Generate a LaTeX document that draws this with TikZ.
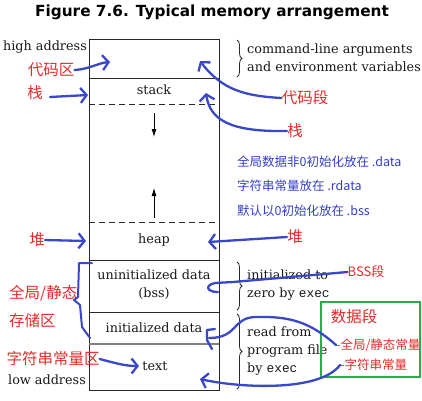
\documentclass[tikz,border=0pt]{standalone}
\usepackage{fontspec}
\setmainfont{DejaVu Serif}
\newfontfamily\cjk{Noto Sans CJK SC}
\newfontfamily\titlefont{DejaVu Sans}
\newfontfamily\monof{Liberation Mono}
\usetikzlibrary{arrows.meta,decorations.pathreplacing}
\definecolor{myred}{RGB}{228,44,44}
\definecolor{myblue}{RGB}{58,72,200}
\definecolor{mybluetxt}{RGB}{52,64,200}
\definecolor{mygreen}{RGB}{46,170,74}
\definecolor{boxline}{RGB}{40,40,40}
\begin{document}
\begin{tikzpicture}[x=1pt,y=-1pt,
  serif/.style={font=\fontsize{12.8}{18}\selectfont, inner sep=0pt, text=black!90},
  redtxt/.style={text=myred, font=\cjk\fontsize{15.5}{18}\selectfont, inner sep=0pt},
  redsmall/.style={text=myred, font=\cjk\fontsize{12.5}{15}\selectfont, inner sep=0pt},
  bluetxt/.style={text=mybluetxt, font=\cjk\fontsize{12.5}{15}\selectfont, inner sep=0pt, anchor=west},
  hand/.style={draw=myblue, line width=2.3pt, line cap=round, line join=round},
  handarrow/.style={hand, -{Straight Barb[length=6pt,width=15pt]}},
  boxl/.style={draw=boxline, line width=0.9pt},
  dashl/.style={draw=boxline, line width=0.9pt, dash pattern=on 6pt off 4pt},
  bracel/.style={draw=boxline, line width=0.8pt, decorate, decoration={brace, amplitude=5pt}},
  inarrow/.style={draw=black, line width=0.8pt, -{Latex[length=8pt,width=5pt]}}
]
\useasboundingbox (0,0) rectangle (422,400);
\fill[white] (0,0) rectangle (422,400);

% title
\node[font=\titlefont\bfseries\fontsize{15.3}{17}\selectfont, inner sep=0pt] (title) at (212,12) {Figure 7.6. Typical memory arrangement};

% memory box
\draw[boxl] (89,39) rectangle (219,390);
\draw[boxl] (89,78) -- (219,78);
\draw[dashl] (89,104) -- (219,104);
\draw[dashl] (89,222) -- (219,222);
\draw[boxl] (89,260) -- (219,260);
\draw[boxl] (89,312) -- (219,312);
\draw[draw=gray, line width=1.6pt] (89,344) -- (219,344);

% texts in / around box
\node[serif] (high) at (45,47) {high address};
\node[serif] (low) at (47,380) {low address};
\node[serif] (stack) at (154,90) {stack};
\node[serif] (heap) at (154,240) {heap};
\node[serif, align=center] (bss) at (154,285) {uninitialized data\\(bss)};
\node[serif] (idata) at (154,328) {initialized data};
\node[serif] (text) at (155,366) {text};

\coordinate (dtop) at (154,113);
\coordinate (dbot) at (154,137);
\coordinate (utop) at (154,188);
\coordinate (ubot) at (154,218);
\draw[inarrow] (dtop) -- (dbot);
\draw[inarrow] (ubot) -- (utop);

% braces
\coordinate (b1a) at (237,40); \coordinate (b1b) at (237,77);
\coordinate (b2a) at (237,262); \coordinate (b2b) at (237,310);
\coordinate (b3a) at (237,314); \coordinate (b3b) at (237,389);
\draw[bracel] (b1a) -- (b1b);
\draw[bracel] (b2a) -- (b2b);
\draw[bracel] (b3a) -- (b3b);

\node[serif, anchor=west, align=left] (cmd) at (247,58) {command-line arguments\\and environment variables};
\node[serif, anchor=west, align=left] (izero) at (247,285) {initialized to\\zero by {\monof exec}};
\node[serif, anchor=west, align=left] (rfrom) at (247,351) {read from\\program file\\by {\monof exec}};

% blue notes
\node[bluetxt] (n1) at (237,162) {全局数据非0初始化放在 .data};
\node[bluetxt] (n2) at (237,186) {字符串常量放在 .rdata};
\node[bluetxt] (n3) at (237,211) {默认以0初始化放在 .bss};

% green box
\draw[draw=mygreen, line width=2.4pt] (321,302) rectangle (420,377);
\node[redtxt] (sjd) at (354,317) {数据段};
\node[redsmall, anchor=west] (qjcl) at (336,345) {-全局/静态常量};
\node[redsmall, anchor=west] (zfccl) at (340,365) {-字符串常量};

% red labels
\node[redtxt] (dmq) at (51,70) {代码区};
\node[redtxt] (zhanL) at (35,93) {栈};
\node[redtxt] (dmd) at (305,98) {代码段};
\node[redtxt] (zhanR) at (295,131) {栈};
\node[redtxt] (duiL) at (37,240) {堆};
\node[redtxt] (duiR) at (295,237) {堆};
\node[redsmall, font=\cjk\fontsize{13}{15}\selectfont] (bssd) at (366,272) {BSS段};
\node[redtxt, anchor=west] (qj) at (9,293) {全局/静态};
\node[redtxt, anchor=west] (ccq) at (9,321) {存储区};
\node[redtxt] (zfcq) at (53,359) {字符串常量区};

% hand drawn arrows
\coordinate (t1) at (110,62);
\draw[handarrow] (dmq.east) .. controls (90,69) and (98,63) .. (t1);
\coordinate (t2) at (88,95);
\draw[handarrow] (50,97) -- (t2);
\coordinate (t3) at (200,61);
\draw[handarrow] (dmd.west) .. controls (245,96) and (222,90) .. (t3);
\coordinate (t4) at (206,93);
\draw[handarrow] (zhanR.west) .. controls (230,132) and (210,120) .. (t4);
\coordinate (t5) at (86,241);
\draw[handarrow] (duiL.east) -- (t5);
\coordinate (t6) at (208,242);
\draw[handarrow] (duiR.west) -- (t6);
\coordinate (t10) at (139,366);
\draw[handarrow] (zfcq.east) .. controls (115,363) and (125,366) .. (t10);
\coordinate (t11) at (200,379);
\draw[handarrow] (zfccl.west) .. controls (320,392) and (240,388) .. (t11);

% bracket on left
\coordinate (k1) at (92,263);
\coordinate (k2) at (90,338);
\draw[hand, line width=2pt] (k1) -- (79,263) -- (78,297) -- (74,300) -- (80,305) -- (82,327) -- (k2);

% BSS line with hook
\coordinate (t8) at (218,292);
\draw[hand] (bssd.west) -- (233,282) -- (215,283) .. controls (205,285) and (206,292) .. (t8);

% initialized data line with bracket
\coordinate (t9) at (209,338);
\draw[hand] (qjcl.west) .. controls (310,322) and (290,316) .. (255,317) .. controls (232,318) and (238,338) .. (t9);
\coordinate (h1) at (215,329);
\coordinate (h2) at (212,349);
\draw[hand] (h1) -- (207,330) -- (207,340) -- (h2);

\end{tikzpicture}
\end{document}
